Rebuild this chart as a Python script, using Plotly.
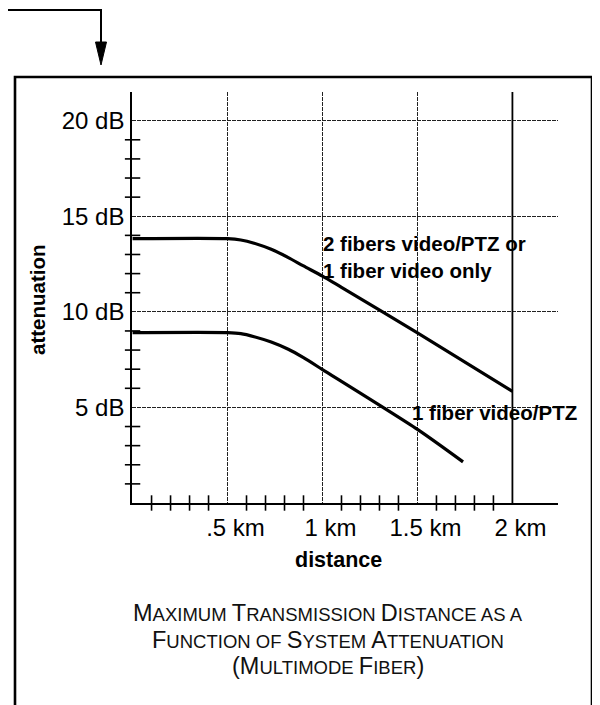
import plotly.graph_objects as go

# ---------------- data ----------------
upper_km = [0.0, 0.5, 0.57, 0.64, 0.73, 0.82, 0.9, 1.0, 1.1, 1.5, 2.0]
upper_db = [13.83, 13.83, 13.76, 13.59, 13.27, 12.84, 12.40, 11.87, 11.28, 8.9, 5.84]

lower_km = [0.0, 0.5, 0.57, 0.64, 0.73, 0.82, 0.9, 1.0, 1.5, 1.74]
lower_db = [8.91, 8.91, 8.86, 8.70, 8.42, 8.04, 7.60, 6.98, 3.85, 2.15]

x_major = [0.5, 1.0, 1.5, 2.0]
x_major_text = [".5 km", "1 km", "1.5 km", "2 km"]
x_minor = [0.1, 0.2, 0.3, 0.4, 0.6, 0.7, 0.8, 0.9, 1.1, 1.2, 1.3, 1.4,
           1.6, 1.7, 1.8, 1.9]
y_major = [5, 10, 15, 20]
y_major_text = ["5 dB", "10 dB", "15 dB", "20 dB"]
y_minor = [1, 2, 3, 4, 6, 7, 8, 9, 11, 12, 13, 14, 16, 17, 18, 19]

label_upper = ["2 fibers video/PTZ or", "1 fiber video only"]
label_lower = "1 fiber video/PTZ"
title_lines = ["Maximum Transmission Distance as a",
               "Function of System Attenuation",
               "(Multimode Fiber)"]

# ---------------- layout geometry ----------------
OFF = 8                      # page body margin of the html page
W, H = 600 - OFF, 705 - OFF
L, R, T, B = 132 - OFF, 42, 92 - OFF, 202
PW, PH = W - L - R, H - T - B
XMIN, XMAX = -0.003, 2.24
YMIN, YMAX = 0.0, 21.5


def px(sx):
    return (sx - OFF - L) / PW


def py(sy):
    return (H - B - (sy - OFF)) / PH


FONT = "Liberation Sans, Arial, Helvetica, sans-serif"
INK = "#000000"


def small_caps(s, small=18.5):
    out = []
    for ch in s:
        if ch.islower():
            out.append(f'<span style="font-size:{small}px">{ch.upper()}</span>')
        elif ch == " ":
            out.append(f'<span style="font-size:{small}px"> </span>')
        else:
            out.append(ch)
    return "".join(out)


fig = go.Figure()

# curves
for xs, ys in ((upper_km, upper_db), (lower_km, lower_db)):
    fig.add_trace(go.Scatter(x=xs, y=ys, mode="lines",
                             line=dict(color=INK, width=3.2, shape="spline", smoothing=0.7),
                             hoverinfo="skip", showlegend=False))

# crossing tick marks
fig.add_trace(go.Scatter(x=x_minor, y=[0] * len(x_minor), mode="markers",
                         marker=dict(symbol="line-ns", size=11,
                                     line=dict(color=INK, width=1.6)),
                         cliponaxis=False, hoverinfo="skip", showlegend=False))
fig.add_trace(go.Scatter(x=[0] * len(y_minor), y=y_minor, mode="markers",
                         marker=dict(symbol="line-ew", size=11,
                                     line=dict(color=INK, width=1.6)),
                         cliponaxis=False, hoverinfo="skip", showlegend=False))

grid_kw = dict(showgrid=True, gridcolor="#222222", gridwidth=1, griddash="4px,1px")

fig.update_xaxes(range=[XMIN, XMAX], tickmode="array", tickvals=x_major,
                 ticktext=x_major_text, ticks="", showline=True, linecolor=INK,
                 linewidth=1.6, zeroline=False, ticklabelshift=8,
                 ticklabelstandoff=2,
                 tickfont=dict(family=FONT, size=24, color=INK), **grid_kw)
fig.update_yaxes(range=[YMIN, YMAX], tickmode="array", tickvals=y_major,
                 ticktext=y_major_text, ticks="", showline=True, linecolor=INK,
                 linewidth=1.6, zeroline=False, ticklabelstandoff=1,
                 tickfont=dict(family=FONT, size=24, color=INK), **grid_kw)

shapes = []
# solid 2 km line
shapes.append(dict(type="line", xref="x", yref="paper", x0=x_major[-1], x1=x_major[-1],
                   y0=0, y1=1, line=dict(color=INK, width=1.8)))
# outer frame (open at bottom)
shapes.append(dict(type="path", xref="paper", yref="paper",
                   path=f"M {px(15)},{py(730)} L {px(15)},{py(77)} L {px(592)},{py(77)} L {px(592)},{py(730)}",
                   line=dict(color=INK, width=2.6)))
# leader line with arrow
shapes.append(dict(type="path", xref="paper", yref="paper",
                   path=f"M {px(-5)},{py(10)} L {px(101)},{py(10)} L {px(101)},{py(46)}",
                   line=dict(color=INK, width=2)))
shapes.append(dict(type="path", xref="paper", yref="paper",
                   path=f"M {px(95.5)},{py(42)} L {px(106.5)},{py(42)} L {px(101)},{py(65)} Z",
                   fillcolor=INK, line=dict(color=INK, width=1)))

annotations = [
    dict(x=px(338), y=py(560), xref="paper", yref="paper", text="<b>distance</b>",
         showarrow=False, font=dict(family=FONT, size=21.5, color=INK),
         xanchor="center", yanchor="middle"),
    dict(x=px(37), y=py(300), xref="paper", yref="paper", text="<b>attenuation</b>",
         showarrow=False, textangle=-90, font=dict(family=FONT, size=20.5, color=INK),
         xanchor="center", yanchor="middle"),
    dict(x=1.0, y=12.85, xref="x", yref="y",
         text="<br>".join(f"<b>{t}</b>" for t in label_upper),
         showarrow=False, align="left", font=dict(family=FONT, size=20.5, color=INK),
         xanchor="left", yanchor="middle", xshift=-1),
    dict(x=1.5, y=4.74, xref="x", yref="y", text=f"<b>{label_lower}</b>",
         showarrow=False, font=dict(family=FONT, size=20.5, color=INK),
         xanchor="left", yanchor="middle", xshift=-7),
]
for line_text, sy in zip(title_lines, (613, 640, 666)):
    annotations.append(dict(x=px(328), y=py(sy), xref="paper", yref="paper",
                            text=small_caps(line_text), showarrow=False,
                            font=dict(family=FONT, size=23.5, color="#111111"),
                            xanchor="center", yanchor="middle"))

fig.update_layout(width=W, height=H, margin=dict(l=L, r=R, t=T, b=B, pad=0),
                  paper_bgcolor="white", plot_bgcolor="white",
                  shapes=shapes, annotations=annotations, showlegend=False)

fig.write_html("out.html")
